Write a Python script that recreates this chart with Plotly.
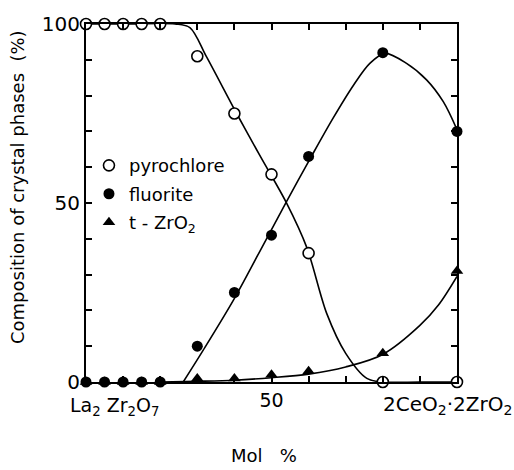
import plotly.graph_objects as go

# ---- data ----
mol_pct = [0, 5, 10, 15, 20, 30, 40, 50, 60, 80, 100]
pyrochlore = [100, 100, 100, 100, 100, 91, 75, 58, 36, 0, 0]
fluorite = [0, 0, 0, 0, 0, 10, 25, 41, 63, 92, 70]
t_zro2 = [0, 0, 0, 0, 0, 1, 1, 2, 3, 8, 31]

# fitted curves as traced on the picture
pyro_curve_x = [0, 12, 24, 28, 32.5, 40.6, 47, 54, 59.5, 64.9, 70, 75.7, 80, 90, 100]
pyro_curve_y = [100, 100, 100, 99, 90.8, 75, 63, 50.1, 37.6, 19.1, 8, 1.0, 0, 0, 0]
fluor_curve_x = [26.2, 31.6, 39.7, 47, 53.9, 60.8, 66.6, 72.1, 76.5, 80.6, 86.4, 91.8, 96.3, 100]
fluor_curve_y = [0, 8.9, 22.8, 36.8, 50.1, 63.1, 73.7, 82.9, 89, 91.8, 89, 84.4, 78.3, 70.5]
tz_curve_x = [20, 30, 40, 50, 60, 70, 80, 90, 95, 100]
tz_curve_y = [0, 0.2, 0.5, 1.2, 2.2, 4.2, 7.7, 15.8, 21.5, 29.5]

y_tickvals = [0, 10, 20, 30, 40, 50, 60, 70, 80, 90, 100]
y_ticktext = ["0", "", "", "", "", "50", "", "", "", "", "100"]
x_tickvals = [0, 10, 20, 30, 40, 50, 60, 70, 80, 90, 100]
x_ticktext = ["", "", "", "", "", "50", "", "", "", "", ""]
left_label = "La<sub>2</sub> Zr<sub>2</sub>O<sub>7</sub>"
right_label = "2CeO<sub>2</sub>·2ZrO<sub>2</sub>"
names = ["pyrochlore", "fluorite", "t - ZrO<sub>2</sub>"]

FONT = "DejaVu Sans"
fig = go.Figure()

line_style = dict(color="black", width=1.6, shape="spline", smoothing=0.9)
for cx, cy in [(pyro_curve_x, pyro_curve_y), (fluor_curve_x, fluor_curve_y), (tz_curve_x, tz_curve_y)]:
    fig.add_trace(go.Scatter(x=cx, y=cy, mode="lines", line=line_style,
                             showlegend=False, hoverinfo="skip", cliponaxis=False))

fig.add_trace(go.Scatter(x=mol_pct, y=t_zro2, mode="markers", name=names[2],
                         marker=dict(symbol="triangle-up", size=11, color="black"),
                         cliponaxis=False, legendgroup="c", legendrank=3))
fig.add_trace(go.Scatter(x=mol_pct, y=fluorite, mode="markers", name=names[1],
                         marker=dict(symbol="circle", size=11, color="black"),
                         cliponaxis=False, legendgroup="b", legendrank=2))
fig.add_trace(go.Scatter(x=mol_pct, y=pyrochlore, mode="markers", name=names[0],
                         marker=dict(symbol="circle", size=11, color="white",
                                     line=dict(color="black", width=1.6)),
                         cliponaxis=False, legendgroup="a", legendrank=1))

axis_common = dict(showgrid=False, zeroline=False, showline=True, linecolor="black",
                   linewidth=2, mirror="ticks", ticks="inside", ticklen=6,
                   tickwidth=1.5, tickcolor="black")

fig.update_xaxes(range=[0, 100], tickvals=x_tickvals, ticktext=x_ticktext,
                 tickfont=dict(family=FONT, size=19, color="black"), **axis_common)
fig.update_yaxes(range=[0, 100], tickvals=y_tickvals, ticktext=y_ticktext,
                 tickfont=dict(family=FONT, size=20, color="black"), **axis_common)

fig.add_annotation(x=0, y=0, xref="x", yref="y", text=left_label, showarrow=False,
                   xanchor="left", yanchor="top", xshift=-18, yshift=-10,
                   font=dict(family=FONT, size=19, color="black"))
fig.add_annotation(x=80, y=0, xref="x", yref="y", text=right_label, showarrow=False,
                   xanchor="left", yanchor="top", xshift=-2, yshift=-8,
                   font=dict(family=FONT, size=20, color="black"))
fig.add_annotation(x=-0.183, y=0.545, xref="paper", yref="paper",
                   text="Composition of crystal phases  (%)", textangle=-90,
                   showarrow=False, xanchor="center", yanchor="middle",
                   font=dict(family=FONT, size=18, color="black"))
fig.add_annotation(x=0.48, y=-0.205, xref="paper", yref="paper", text="Mol&nbsp;&nbsp;&nbsp;%",
                   showarrow=False, xanchor="center", yanchor="middle",
                   font=dict(family=FONT, size=18, color="black"))

fig.update_layout(
    width=514, height=470,
    margin=dict(l=86, r=57, t=22, b=88),
    paper_bgcolor="white", plot_bgcolor="white",
    showlegend=True,
    legend=dict(x=0.008, y=0.656, xanchor="left", yanchor="top",
                bgcolor="rgba(0,0,0,0)", tracegroupgap=2,
                font=dict(family=FONT, size=18, color="black")),
)

fig.write_html("out.html")
